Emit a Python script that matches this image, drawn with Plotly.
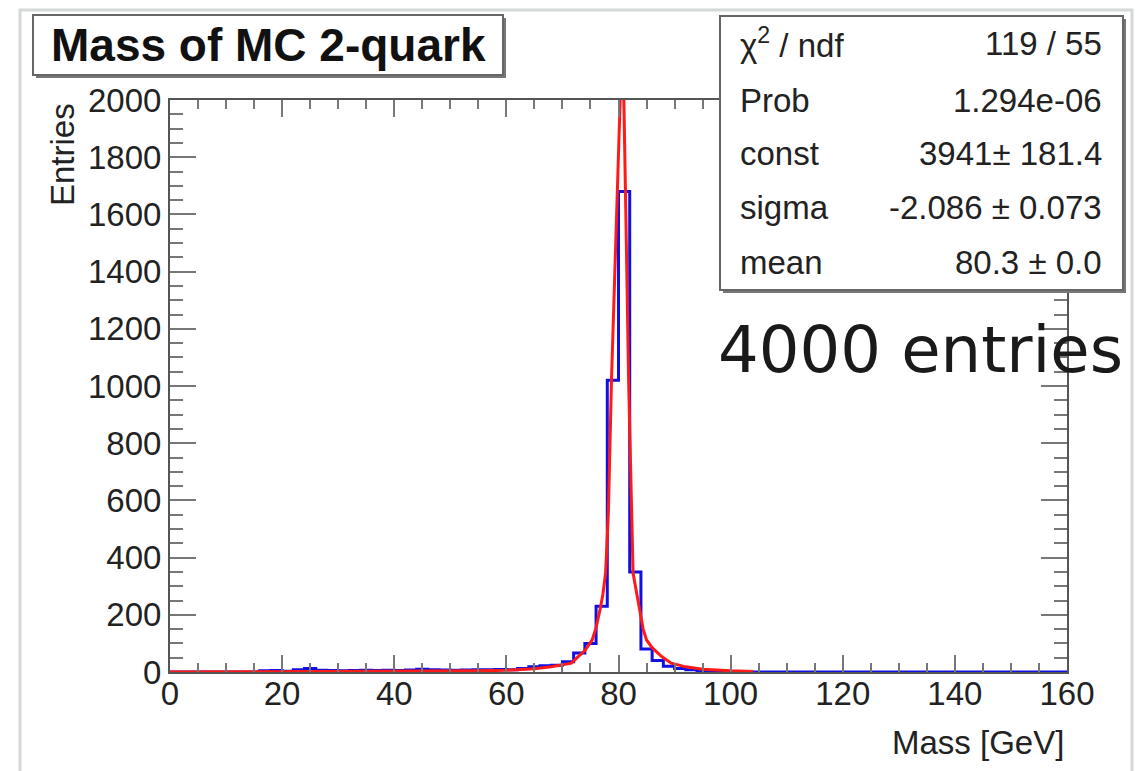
import plotly.graph_objects as go

# histogram: 2 GeV bins from 0 to 160 (80 bins), entries
bin_lo = list(range(0, 160, 2))
entries = [0, 0, 0, 0, 0, 0, 0, 0,          # 0-16
           4, 5, 3, 8, 12, 6, 5, 4,         # 16-32
           5, 6, 5, 6, 5, 7, 10, 8,         # 32-48
           7, 6, 7, 8, 8, 9, 8, 12,         # 48-64
           18, 22, 24, 36, 66, 100, 230, 1020,   # 64-80
           1680, 350, 80, 40, 20, 12, 8, 5,      # 80-96
           2, 1, 0, 0, 0, 0, 0, 0,          # 96-112
           0, 0, 0, 0, 0, 0, 0, 0,
           0, 0, 0, 0, 0, 0, 0, 0,
           0, 0, 0, 0, 0, 0, 0, 0]

# fitted curve, points (clipped at the top of the frame)
fit_x = [0, 20, 40, 50, 55, 60, 65, 68, 70, 71.6, 72.8, 74, 75.3, 76.0, 76.7, 77.2,
         77.7, 78.2, 78.75, 79.3, 79.9, 80.3, 80.6, 81.0, 81.4, 81.8, 82.2, 82.6,
         83.2, 83.8, 84.4, 85.0, 86.0, 87.7, 89.4, 92, 95, 100, 104]
fit_y = [0, 1, 2, 3, 4, 6, 11, 18, 25, 31, 54, 75, 112, 155, 217, 270,
         346, 560, 1021, 1350, 1700, 2000, 2400, 2000, 1500, 1021, 650, 346,
         280, 217, 150, 112, 85, 54, 31, 18, 10, 4, 2]

stat_names = ["χ<sup>2</sup> / ndf", "Prob", "const", "sigma", "mean"]
stat_values = ["119 / 55", "1.294e-06", "3941± 181.4", "-2.086 ± 0.073", "80.3 ± 0.0"]

title_text = "Mass of MC 2-quark"
note_text = "4000 entries"

# page offset of the figure (body margin) and plot frame in page pixels
OFF = 8
W, H = 1145 - OFF, 771 - OFF
L, R, T, B = 170, 1067, 100, 672


def px_x(p):
    return (p - L) / (R - L)


def px_y(p):
    return (B - p) / (B - T)


step_x = bin_lo + [160]
step_y = entries + [entries[-1]]

fig = go.Figure()
fig.add_trace(go.Scatter(x=step_x, y=step_y, mode="lines", line_shape="hv",
                         line=dict(color="#1010e0", width=3), hoverinfo="skip"))
fig.add_trace(go.Scatter(x=fit_x, y=fit_y, mode="lines",
                         line=dict(color="#ff1a1a", width=3), hoverinfo="skip"))

axis_font = dict(family="Liberation Sans, Arial, sans-serif", size=33, color="#222")
fig.update_xaxes(range=[0, 160], dtick=20, ticks="inside", ticklen=17, tickwidth=2,
                 tickcolor="#777", showline=True, linecolor="#555", linewidth=2,
                 mirror="ticks", showgrid=False, zeroline=False, tickfont=axis_font,
                 ticklabelstandoff=-9,
                 minor=dict(dtick=5, ticks="inside", ticklen=9, tickwidth=2, tickcolor="#777"))
fig.update_yaxes(range=[0, 2000], dtick=200, ticks="inside", ticklen=26, tickwidth=2,
                 tickcolor="#777", showline=True, linecolor="#555", linewidth=2,
                 mirror="ticks", showgrid=False, zeroline=False, tickfont=axis_font,
                 minor=dict(dtick=50, ticks="inside", ticklen=13, tickwidth=2, tickcolor="#777"))

shapes = [
    # canvas border
    dict(type="rect", xref="paper", yref="paper", x0=px_x(20), x1=px_x(1132),
         y0=px_y(790), y1=px_y(10), line=dict(color="#d4d8d8", width=3)),
    # title box shadow + box
    dict(type="rect", xref="paper", yref="paper", x0=px_x(36), x1=px_x(506),
         y0=px_y(78), y1=px_y(18), fillcolor="#777", line=dict(width=0)),
    dict(type="rect", xref="paper", yref="paper", x0=px_x(33), x1=px_x(503),
         y0=px_y(75), y1=px_y(15), fillcolor="white", line=dict(color="#666", width=2)),
    # stats box shadow + box
    dict(type="rect", xref="paper", yref="paper", x0=px_x(723), x1=px_x(1126),
         y0=px_y(293), y1=px_y(19), fillcolor="#777", line=dict(width=0)),
    dict(type="rect", xref="paper", yref="paper", x0=px_x(720), x1=px_x(1123),
         y0=px_y(290), y1=px_y(16), fillcolor="white", line=dict(color="#666", width=2)),
]

stat_font = dict(family="Liberation Sans, Arial, sans-serif", size=33, color="#222")
annotations = [
    dict(text="<b>" + title_text + "</b>", xref="paper", yref="paper",
         x=px_x(268), y=px_y(45), xanchor="center", yanchor="middle", showarrow=False,
         font=dict(family="Liberation Sans, Arial, sans-serif", size=46, color="#111")),
    dict(text="Entries", xref="paper", yref="paper", x=px_x(62), y=px_y(155),
         xanchor="center", yanchor="middle", textangle=-90, showarrow=False,
         font=axis_font),
    dict(text="Mass [GeV]", xref="paper", yref="paper", x=px_x(1066), y=px_y(742),
         xanchor="right", yanchor="middle", showarrow=False, font=axis_font),
    dict(text=note_text, xref="paper", yref="paper", x=px_x(716), y=px_y(350),
         xanchor="left", yanchor="middle", showarrow=False,
         font=dict(family="DejaVu Sans, sans-serif", size=64, color="#1a1a1a")),
]
row_y = [43, 100, 153, 207, 262]
for name, val, yy in zip(stat_names, stat_values, row_y):
    annotations.append(dict(text=name, xref="paper", yref="paper", x=px_x(738), y=px_y(yy),
                            xanchor="left", yanchor="middle", showarrow=False, font=stat_font))
    annotations.append(dict(text=val, xref="paper", yref="paper", x=px_x(1104), y=px_y(yy),
                            xanchor="right", yanchor="middle", showarrow=False, font=stat_font))

fig.update_layout(
    width=W, height=H,
    margin=dict(l=L - OFF, r=W - (R - OFF), t=T - OFF, b=H - (B - OFF)),
    paper_bgcolor="white", plot_bgcolor="white",
    showlegend=False,
    shapes=shapes,
    annotations=annotations,
)

fig.write_html("out.html")
